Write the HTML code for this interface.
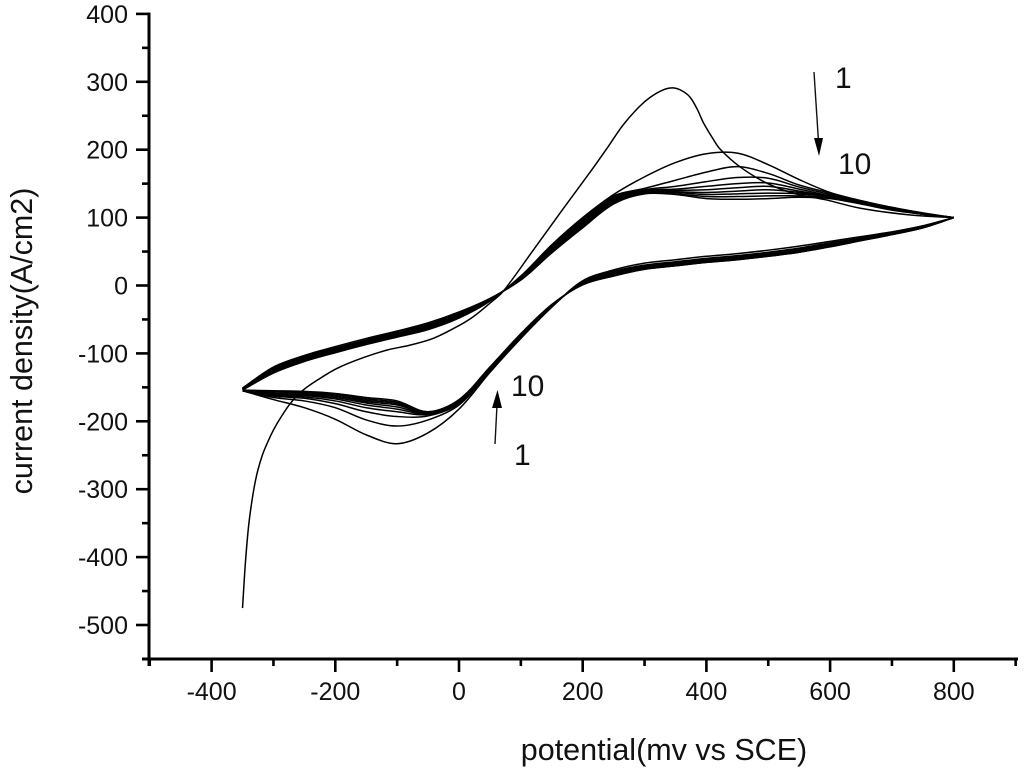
<!DOCTYPE html>
<html lang="en">
<head>
<meta charset="utf-8">
<title>Cyclic voltammogram</title>
<style>
html,body{margin:0;padding:0;background:#fff;}
svg{display:block;}
text{font-family:"Liberation Sans",Arial,sans-serif;fill:#111;}
</style>
</head>
<body>
<svg id="chart" xmlns="http://www.w3.org/2000/svg" width="1024" height="770" viewBox="0 0 1024 770">
  <rect x="0" y="0" width="1024" height="770" fill="#fff"/>
  <g id="curves" fill="none" stroke="#000" stroke-width="1.5" stroke-linejoin="round"></g>
  <g id="axes"></g>
  <text x="664" y="760" font-size="30.5" text-anchor="middle">potential(mv vs SCE)</text>
  <text transform="translate(32,341) rotate(-90)" font-size="30.5" text-anchor="middle">current density(A/cm2)</text>
  <g>
    <line x1="814" y1="72" x2="818.4" y2="140" stroke="#111" stroke-width="1.4"/>
    <polygon points="814,138 823,138 819,156" fill="#000"/>
  </g>
  <g>
    <line x1="495" y1="444" x2="497" y2="405" stroke="#111" stroke-width="1.4"/>
    <polygon points="492,408 502,408 497.5,390" fill="#000"/>
  </g>
  <text x="835" y="88" font-size="30">1</text>
  <text x="838" y="174" font-size="30">10</text>
  <text x="511" y="396" font-size="30">10</text>
  <text x="514" y="465" font-size="30">1</text>
</svg>
<script>
const xTickValues = [-500,-400,-300,-200,-100,0,100,200,300,400,500,600,700,800,900];
const xTickLabels = ["-400","-200","0","200","400","600","800"];
const yTickValues = [400,350,300,250,200,150,100,50,0,-50,-100,-150,-200,-250,-300,-350,-400,-450,-500,-550];
const yTickLabels = ["400","300","200","100","0","-100","-200","-300","-400","-500"];

const forwardPotentials = [-350,-300,-250,-200,-150,-100,-50,0,50,100,150,200,250,300,350,400,450,500,550,600,650,700,750,800];
const reversePotentials = [800,750,700,650,600,550,500,450,400,350,300,250,200,150,100,50,0,-50,-100,-150,-200,-250,-300,-350];

const cycle1ForwardPotentials = [-350,-345,-339,-329,-318,-305,-294,-273,-252,-225,-197,-160,-116,-80,-42,0,23,50,71,120,170,212,240,265,290,309,330,346,360,373,385,395,410,422,454,497,540,594,648,728,800];
const cycle1Forward = [-475,-404,-345,-287,-250,-222,-203,-174,-154,-137,-122,-108,-95,-88,-78,-59,-46,-26,-9,52,115,167,203,236,262,277,288,291,287,278,260,240,217,201,175,151,136,126,114,104,100];

const cycle2Forward = [-154,-129,-112,-99,-87,-76,-65,-48,-23,14,60,100,134,160,181,194,195,178,156,137,125,115,107,100];
const cycle3Forward = [-153.5,-128,-111,-98,-86,-75,-64,-47,-22.5,13.5,58,98,132,143,155,167,175,165,148,136,124,115,106,100];
const cycle4Forward = [-153,-127,-110,-97,-85,-74,-63,-46,-22,13,56,96,130,141,146,153,159,158,145,134,123,114,106,100];
const cycle5Forward = [-153,-126,-109,-96,-84,-73,-62,-45,-21.5,12,55,94,128,140,142,146,150,151,142,132,123,114,106,100];
const cycle6Forward = [-152.5,-125,-108,-95,-83,-72,-60,-44,-21,11,54,92,126,139,140,141,144,146,139,131,122,113,105.5,100];
const cycle7Forward = [-152,-124,-107,-94,-82,-71,-59,-43,-20.5,10.5,52,90,125,138,138,137,139,141,137,130,122,113,105.5,100];
const cycle8Forward = [-152,-123,-106,-93,-81,-70,-58,-42,-20,10,51,88,123,137,137,134,135,136,135,130,121,112,105,100];
const cycle9Forward = [-151.5,-122,-104,-92,-80,-68,-57,-40,-19.5,9,49,87,122,136,135,131,131,132,132,129,121,112,105,100];
const cycle10Forward = [-151,-120,-103,-90,-78,-67,-55,-39,-19,8,48,85,120,135,134,128,127,128,130,128,120,111,105,100];

const cycle1Reverse = [100,88,79,72,65,58,52,47,43,38,33,23,7,-32,-78,-128,-182,-217,-233,-220,-197,-180,-168,-155];
const cycle2Reverse = [100,87,78,70,63,55,49,44,40,35,30,21,5.5,-31.5,-77,-126,-176,-198,-207,-198,-180,-170,-165,-155];
const cycle3Reverse = [100,87,77,69,61,54,48,43,39,34,29,19,4.5,-31,-76,-125,-174,-192,-193,-186,-174,-166,-163,-155];
const cycle4Reverse = [100,86,77,68,60,52,46,41,37,32,28,18,4,-30.5,-75.5,-124,-173,-190,-186,-180,-170,-164,-162,-155];
const cycle5Reverse = [100,86,76,68,59,52,46,41,37,32,27,17,3.5,-30,-75,-123,-172,-189,-182,-176,-167,-162,-161,-154.5];
const cycle6Reverse = [100,86,76,67,59,51,45,40,36,31,26,16,3,-30,-74,-122.5,-171,-188,-179,-173,-165,-161,-160,-154.5];
const cycle7Reverse = [100,85,76,67,58,50,44,39,35,30,25,15,2.5,-29.5,-73.5,-122,-170,-187.5,-176,-171,-163,-160,-159,-154];
const cycle8Reverse = [100,85,75,67,58,50,44,39,35,30,25,15,2,-29,-73,-121,-169,-187,-174,-169,-162,-158,-158,-154];
const cycle9Reverse = [100,85,75,66,57,49,43,38,34,29,24,14,1.5,-28.5,-72,-120.5,-168.5,-186,-172,-167,-160,-157,-156,-154];
const cycle10Reverse = [100,85,75,66,57,49,43,38,34,29,24,14,1,-28,-71,-120,-168,-186,-170,-165,-159,-156,-155,-154];

const cycleForwardSeries = [cycle2Forward,cycle3Forward,cycle4Forward,cycle5Forward,cycle6Forward,cycle7Forward,cycle8Forward,cycle9Forward,cycle10Forward];
const cycleReverseSeries = [cycle2Reverse,cycle3Reverse,cycle4Reverse,cycle5Reverse,cycle6Reverse,cycle7Reverse,cycle8Reverse,cycle9Reverse,cycle10Reverse];

const SVG_NS = 'http://www.w3.org/2000/svg';
function xScale(v){ return 459 + v * 0.6185; }
function yScale(v){ return 285.5 - v * 0.679; }

function makeSvg(tag, attrs){
  const el = document.createElementNS(SVG_NS, tag);
  for (const k in attrs) el.setAttribute(k, attrs[k]);
  return el;
}

function dist(a, b){
  return Math.hypot(a[0] - b[0], a[1] - b[1]) || 0.001;
}

function tangent(pts, i){
  const a = pts[Math.max(i - 1, 0)];
  const b = pts[i];
  const c = pts[Math.min(i + 1, pts.length - 1)];
  const total = dist(a, b) + dist(b, c);
  return [(c[0] - a[0]) / total, (c[1] - a[1]) / total];
}

function smoothPath(pts){
  let d = 'M' + pts[0][0].toFixed(2) + ' ' + pts[0][1].toFixed(2);
  for (let i = 0; i < pts.length - 1; i++){
    const p1 = pts[i];
    const p2 = pts[i + 1];
    const len = dist(p1, p2) / 3;
    const t1 = tangent(pts, i);
    const t2 = tangent(pts, i + 1);
    const c1x = p1[0] + t1[0] * len;
    const c1y = p1[1] + t1[1] * len;
    const c2x = p2[0] - t2[0] * len;
    const c2y = p2[1] - t2[1] * len;
    d += 'C' + c1x.toFixed(2) + ' ' + c1y.toFixed(2) + ' ' + c2x.toFixed(2) + ' ' + c2y.toFixed(2) + ' ' + p2[0].toFixed(2) + ' ' + p2[1].toFixed(2);
  }
  return d;
}

function toPoints(xs, ys){
  return xs.map(function(x, i){ return [xScale(x), yScale(ys[i])]; });
}

const curvesGroup = document.getElementById('curves');

const firstForwardPath = makeSvg('path', { d: smoothPath(toPoints(cycle1ForwardPotentials, cycle1Forward)) });


curvesGroup.appendChild(firstForwardPath);

const firstReversePath = makeSvg('path', { d: smoothPath(toPoints(reversePotentials, cycle1Reverse)) });


curvesGroup.appendChild(firstReversePath);

cycleForwardSeries.forEach(function(forward, i){
  const forwardPath = makeSvg('path', { d: smoothPath(toPoints(forwardPotentials, forward)) });
  
  
  curvesGroup.appendChild(forwardPath);
  const reversePath = makeSvg('path', { d: smoothPath(toPoints(reversePotentials, cycleReverseSeries[i])) });
  
  
  curvesGroup.appendChild(reversePath);
});

const axesGroup = document.getElementById('axes');
const AXIS_X = 149;
const AXIS_Y = 659;

const xAxisLine = makeSvg('line', { x1: AXIS_X - 7, y1: AXIS_Y, x2: 1018, y2: AXIS_Y, stroke: '#000', 'stroke-width': 3 });


axesGroup.appendChild(xAxisLine);

const yAxisLine = makeSvg('line', { x1: AXIS_X, y1: 12.5, x2: AXIS_X, y2: AXIS_Y + 7, stroke: '#000', 'stroke-width': 3 });


axesGroup.appendChild(yAxisLine);

xTickValues.forEach(function(v){
  const major = xTickLabels.indexOf(String(v)) >= 0;
  const tick = makeSvg('line', { x1: xScale(v), y1: AXIS_Y, x2: xScale(v), y2: AXIS_Y + (major ? 13 : 7), stroke: '#000', 'stroke-width': 2.6 });
  
  
  axesGroup.appendChild(tick);
  if (major){
    const label = makeSvg('text', { x: xScale(v), y: 700, 'font-size': 25, 'text-anchor': 'middle' });
    label.textContent = String(v);
    
    
    axesGroup.appendChild(label);
  }
});

yTickValues.forEach(function(v){
  const major = yTickLabels.indexOf(String(v)) >= 0;
  const tick = makeSvg('line', { x1: AXIS_X, y1: yScale(v), x2: AXIS_X - (major ? 13 : 7), y2: yScale(v), stroke: '#000', 'stroke-width': 2.6 });
  
  
  axesGroup.appendChild(tick);
  if (major){
    const label = makeSvg('text', { x: 128, y: yScale(v) + 9, 'font-size': 25, 'text-anchor': 'end' });
    label.textContent = String(v);
    
    
    axesGroup.appendChild(label);
  }
});
</script>
</body>
</html>
